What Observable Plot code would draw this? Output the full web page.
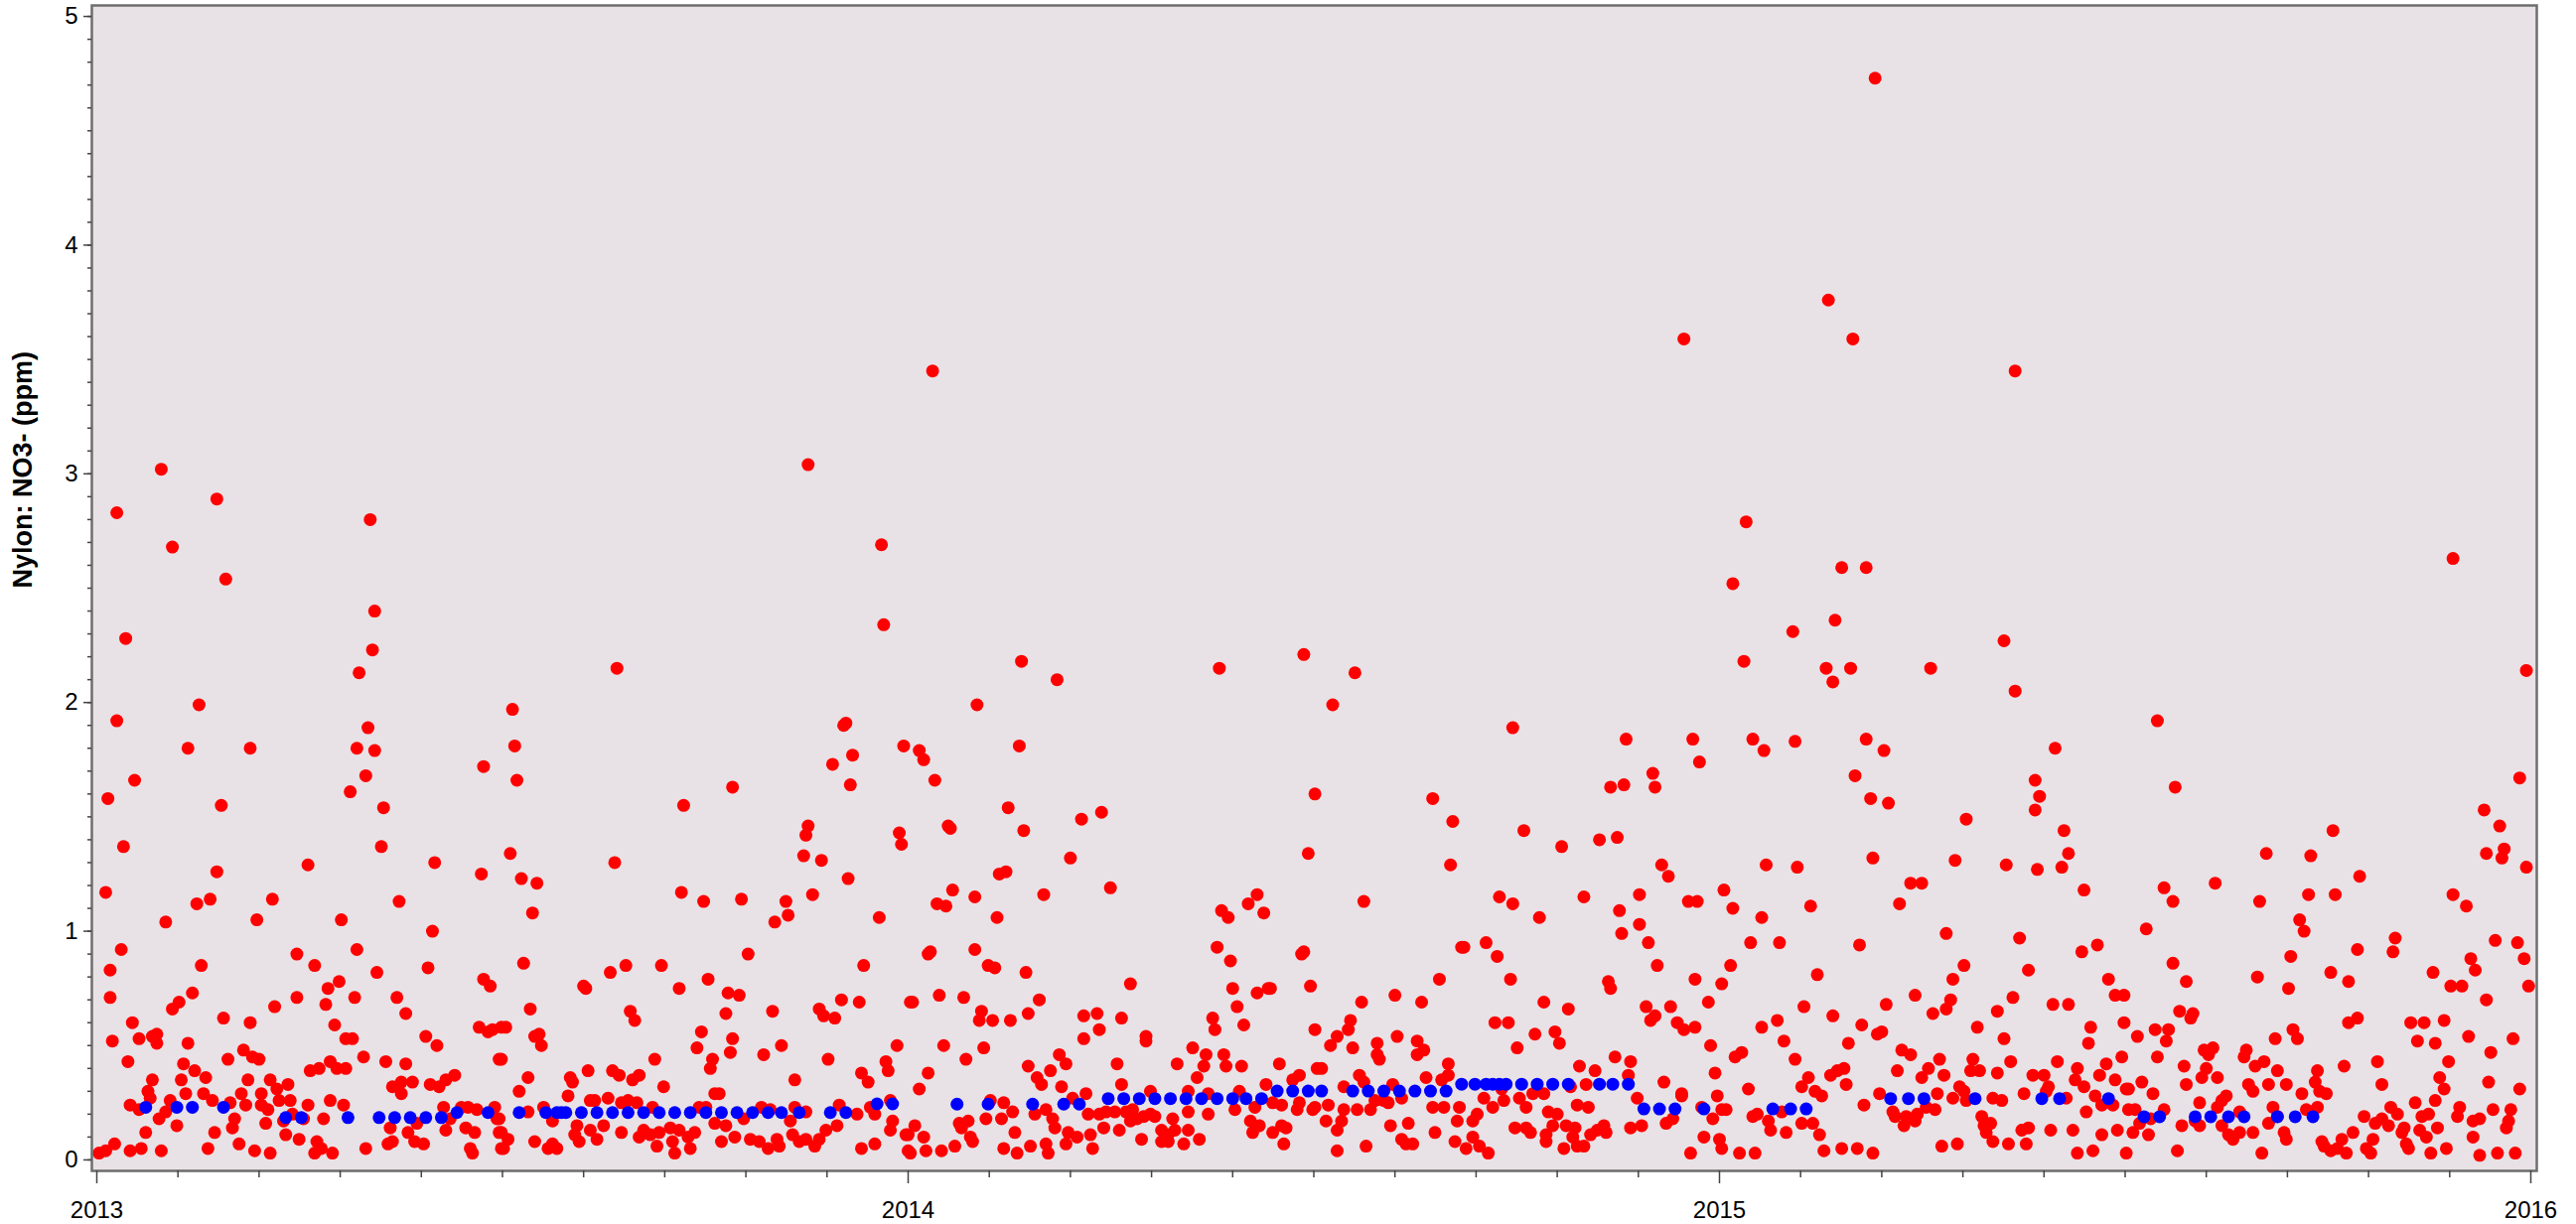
<!DOCTYPE html>
<html><head><meta charset="utf-8">
<script src="https://cdn.jsdelivr.net/npm/d3@7"></script>
<script src="https://cdn.jsdelivr.net/npm/@observablehq/plot@0.6"></script>
<style>body{margin:0;background:#fff}</style>
</head><body><div id="chart"></div>
<script>
const yTitle = "Nylon: NO3- (ppm)";
const yearTicks = [2013, 2014, 2015, 2016];
const yMajorTicks = [0, 1, 2, 3, 4, 5];

// Daily samples: [days since 2013-01-01, ppm]
const red2013 = [
[13,2.28],[124,2.23],[118,2.13],[46,1.99],[9,1.92],[122,1.89],[41,1.80],[69,1.80],[117,1.80],[125,1.79],[174,1.72],[17,1.66],[121,1.68],[5,1.58],[114,1.61],[56,1.55],[129,1.54],[12,1.37],[128,1.37],[95,1.29],[152,1.30],[173,1.25],[54,1.26],[4,1.17],[51,1.14],[45,1.12],[79,1.14],[136,1.13],[31,1.04],[72,1.05],[110,1.05],[151,1.00],[11,0.92],[117,0.92],[90,0.90],[6,0.83],[47,0.85],[98,0.85],[126,0.82],[149,0.84],[109,0.78],[104,0.75],[174,0.79],[177,0.76],[6,0.71],[43,0.73],[37,0.69],[34,0.66],[90,0.71],[116,0.71],[135,0.71],[103,0.68],[80,0.67],[57,0.62],[69,0.60],[139,0.64],[16,0.60],[107,0.59],[7,0.52],[19,0.53],[27,0.51],[27,0.55],[25,0.54],[41,0.51],[112,0.53],[115,0.53],[148,0.54],[153,0.50],[172,0.58],[176,0.56],[178,0.57],[14,0.43],[66,0.48],[59,0.44],[70,0.45],[73,0.44],[39,0.42],[120,0.45],[130,0.43],[139,0.42],[181,0.44],[25,0.35],[23,0.30],[38,0.35],[44,0.39],[49,0.36],[68,0.35],[78,0.35],[86,0.33],[81,0.31],[96,0.39],[100,0.40],[105,0.43],[108,0.40],[112,0.40],[133,0.32],[137,0.34],[142,0.34],[137,0.29],[150,0.33],[154,0.32],[157,0.35],[161,0.37],[15,0.24],[19,0.22],[24,0.27],[33,0.26],[31,0.21],[28,0.18],[40,0.29],[48,0.29],[52,0.26],[60,0.25],[65,0.29],[67,0.24],[74,0.29],[74,0.24],[77,0.22],[82,0.26],[87,0.26],[88,0.20],[95,0.24],[93,0.18],[105,0.26],[111,0.24],[102,0.18],[62,0.18],[76,0.16],[84,0.17],[36,0.15],[22,0.12],[53,0.12],[61,0.14],[85,0.11],[91,0.09],[132,0.14],[144,0.16],[140,0.12],[157,0.13],[156,0.23],[164,0.23],[167,0.23],[171,0.22],[159,0.18],[166,0.14],[170,0.12],[180,0.18],[181,0.12],[179,0.23],[1,0.03],[4,0.04],[8,0.07],[15,0.04],[20,0.05],[29,0.04],[50,0.05],[64,0.07],[71,0.04],[78,0.03],[99,0.08],[98,0.03],[101,0.05],[106,0.03],[121,0.05],[131,0.07],[133,0.08],[143,0.08],[147,0.07],[169,0.03],[168,0.05],[182,0.05],[182,0.58],
[9,2.83],[29,3.02],[34,2.68],[54,2.89],[58,2.54],[123,2.80],[125,2.40],
[234,2.15],[187,1.97],[188,1.81],[189,1.66],[186,1.34],[191,1.23],[198,1.21],[196,1.08],[192,0.86],[233,1.30],[264,1.55],[286,1.63],[263,1.17],[273,1.13],[290,1.14],[293,0.90],[305,1.04],[310,1.13],[311,1.07],[320,1.46],[319,1.42],[318,1.33],[326,1.31],[322,1.16],[331,1.73],[336,1.90],[337,1.91],[340,1.77],[339,1.64],[338,1.23],[345,0.85],[352,1.06],[363,1.81],[361,1.43],[362,1.38],[343,0.69],[335,0.70],[325,0.66],[327,0.63],[332,0.62],[329,0.44],[360,0.50],[355,0.43],[356,0.39],[344,0.38],[347,0.34],[219,0.76],[220,0.75],[231,0.82],[238,0.85],[254,0.85],[262,0.75],[275,0.79],[284,0.73],[289,0.72],[283,0.64],[286,0.53],[285,0.47],[272,0.56],[270,0.49],[277,0.44],[276,0.40],[278,0.29],[280,0.29],[304,0.65],[308,0.50],[300,0.46],[314,0.35],[240,0.65],[242,0.61],[195,0.66],[184,0.58],[182,0.44],[197,0.54],[199,0.55],[200,0.50],[194,0.36],[190,0.30],[212,0.28],[213,0.36],[214,0.34],[221,0.39],[232,0.39],[235,0.37],[241,0.35],[244,0.37],[251,0.44],[255,0.32],[222,0.26],[224,0.26],[230,0.27],[236,0.25],[239,0.26],[243,0.25],[250,0.23],[194,0.21],[201,0.23],[205,0.17],[216,0.15],[222,0.13],[228,0.15],[236,0.12],[244,0.10],[246,0.13],[249,0.11],[253,0.12],[258,0.14],[259,0.08],[262,0.13],[266,0.10],[269,0.12],[271,0.23],[274,0.23],[278,0.16],[283,0.15],[287,0.10],[291,0.18],[299,0.23],[303,0.22],[294,0.09],[298,0.08],[302,0.05],[306,0.09],[307,0.06],[312,0.17],[313,0.11],[314,0.23],[316,0.08],[319,0.09],[323,0.06],[325,0.09],[328,0.13],[333,0.15],[334,0.24],[342,0.20],[350,0.20],[348,0.23],[357,0.26],[358,0.17],[357,0.13],[344,0.05],[350,0.07],[364,0.11],[365,0.04],[183,0.05],[185,0.09],[182,0.12],[181,0.18],[197,0.08],[203,0.05],[205,0.07],[207,0.05],[215,0.11],[217,0.08],[225,0.09],[252,0.06],[260,0.03],[267,0.05],[281,0.08],[319,0.21],
[320,3.04],[353,2.69],[354,2.34]
];
const red2014 = [
[366,0.69],[416,2.18],[432,2.10],[396,1.99],[505,2.15],[543,2.21],[370,1.79],[372,1.75],[377,1.66],[415,1.81],[410,1.54],[384,1.45],[383,1.46],[417,1.44],[443,1.49],[452,1.52],[438,1.32],[406,1.25],[409,1.26],[385,1.18],[378,1.12],[382,1.11],[395,1.15],[426,1.16],[456,1.19],[405,1.06],[548,1.60],[545,1.34],[506,1.09],[509,1.06],[518,1.12],[522,1.16],[525,1.08],[504,0.93],[510,0.87],[543,0.91],[542,0.90],[546,0.76],[375,0.91],[374,0.90],[395,0.92],[401,0.85],[404,0.84],[418,0.82],[465,0.77],[511,0.75],[522,0.73],[527,0.75],[528,0.75],[513,0.67],[367,0.69],[379,0.72],[390,0.71],[424,0.70],[398,0.65],[397,0.61],[403,0.61],[411,0.61],[419,0.64],[444,0.63],[450,0.64],[451,0.57],[444,0.53],[461,0.62],[472,0.54],[472,0.52],[502,0.62],[503,0.57],[516,0.59],[548,0.57],[381,0.50],[391,0.44],[399,0.49],[374,0.38],[370,0.31],[419,0.41],[423,0.36],[425,0.33],[429,0.39],[433,0.46],[436,0.42],[434,0.32],[445,0.29],[459,0.42],[461,0.33],[474,0.30],[486,0.42],[493,0.49],[498,0.41],[499,0.46],[507,0.46],[508,0.41],[515,0.41],[532,0.42],[495,0.36],[491,0.30],[500,0.29],[514,0.30],[526,0.33],[541,0.37],[538,0.35],[549,0.40],[402,0.26],[408,0.25],[412,0.21],[400,0.18],[407,0.18],[422,0.20],[427,0.22],[430,0.18],[431,0.14],[439,0.27],[446,0.20],[451,0.20],[454,0.21],[458,0.21],[463,0.21],[466,0.22],[468,0.18],[465,0.17],[471,0.19],[474,0.20],[476,0.19],[479,0.13],[482,0.11],[484,0.18],[485,0.13],[491,0.13],[491,0.21],[500,0.20],[512,0.22],[521,0.23],[519,0.17],[523,0.15],[520,0.12],[529,0.12],[533,0.15],[535,0.14],[529,0.25],[533,0.24],[540,0.22],[541,0.25],[547,0.22],[534,0.07],[368,0.15],[365,0.11],[372,0.10],[388,0.16],[392,0.17],[389,0.14],[393,0.10],[394,0.08],[366,0.03],[373,0.04],[380,0.04],[386,0.06],[408,0.05],[414,0.03],[420,0.06],[427,0.07],[428,0.03],[413,0.12],[437,0.12],[436,0.07],[441,0.10],[447,0.11],[448,0.05],[453,0.14],[460,0.13],[470,0.09],[479,0.08],[482,0.08],[489,0.07],[496,0.09],
[376,3.45],
[566,2.13],[556,1.99],[637,1.89],[688,1.84],[718,1.84],[721,1.74],[700,1.69],[701,1.63],[681,1.63],[687,1.64],[601,1.58],[610,1.48],[642,1.44],[659,1.37],[676,1.40],[684,1.41],[609,1.29],[704,1.29],[707,1.24],[570,1.13],[631,1.15],[637,1.12],[649,1.06],[669,1.15],[694,1.16],[685,1.09],[694,1.03],[686,0.99],[698,0.95],[716,1.13],[720,1.13],[614,0.93],[615,0.93],[625,0.95],[630,0.89],[702,0.85],[604,0.79],[636,0.79],[680,0.78],[681,0.75],[719,0.79],[569,0.69],[584,0.72],[596,0.69],[651,0.69],[662,0.66],[697,0.67],[708,0.67],[725,0.69],[701,0.63],[699,0.61],[711,0.60],[714,0.57],[719,0.58],[726,0.50],[728,0.38],[564,0.61],[563,0.57],[558,0.54],[555,0.50],[565,0.49],[576,0.51],[576,0.46],[577,0.44],[585,0.54],[594,0.52],[597,0.48],[594,0.46],[629,0.60],[635,0.60],[647,0.55],[656,0.56],[658,0.51],[639,0.49],[551,0.40],[608,0.42],[667,0.41],[674,0.39],[683,0.45],[690,0.43],[689,0.37],[705,0.34],[713,0.29],[729,0.28],[568,0.37],[561,0.32],[570,0.34],[583,0.33],[598,0.36],[605,0.35],[608,0.37],[632,0.31],[663,0.32],[670,0.33],[548,0.23],[554,0.24],[561,0.22],[567,0.22],[573,0.22],[575,0.26],[579,0.26],[581,0.25],[587,0.27],[601,0.23],[606,0.23],[613,0.23],[624,0.27],[628,0.23],[633,0.26],[640,0.27],[643,0.23],[646,0.29],[651,0.29],[653,0.21],[657,0.20],[666,0.24],[671,0.23],[693,0.27],[713,0.28],[722,0.23],[727,0.18],[553,0.17],[558,0.13],[560,0.17],[582,0.15],[590,0.16],[602,0.12],[612,0.17],[619,0.17],[621,0.20],[638,0.14],[643,0.14],[645,0.12],[652,0.11],[655,0.15],[661,0.15],[665,0.14],[672,0.11],[675,0.13],[678,0.15],[679,0.12],[690,0.14],[695,0.15],[706,0.16],[709,0.18],[723,0.10],[558,0.04],[571,0.06],[587,0.09],[589,0.07],[592,0.07],[611,0.08],[616,0.05],[619,0.10],[622,0.06],[626,0.03],[652,0.08],[660,0.05],[664,0.10],[666,0.06],[669,0.06],[717,0.03],
[714,3.59]
];
const red2015 = [
[732,1.18],[731,0.77],[731,0.22],[730,0.09],[731,0.05],
[858,2.27],[741,2.18],[778,2.15],[789,2.15],[781,2.09],[825,2.15],[863,2.05],[763,2.31],[745,1.84],[750,1.79],[764,1.83],[796,1.84],[804,1.79],[881,1.80],[791,1.68],[798,1.58],[806,1.56],[872,1.66],[874,1.59],[872,1.53],[841,1.49],[885,1.44],[887,1.34],[884,1.28],[873,1.27],[859,1.29],[836,1.31],[799,1.32],[751,1.29],[765,1.28],[894,1.18],[736,1.10],[749,1.06],[771,1.11],[816,1.21],[821,1.21],[811,1.12],[832,0.99],[865,0.97],[893,0.91],[900,0.94],[744,0.95],[757,0.95],[793,0.94],[735,0.85],[774,0.81],[840,0.85],[835,0.79],[869,0.83],[905,0.79],[908,0.72],[912,0.72],[768,0.67],[805,0.68],[818,0.72],[834,0.70],[832,0.66],[826,0.64],[862,0.71],[880,0.68],[887,0.68],[855,0.65],[749,0.58],[756,0.61],[759,0.52],[781,0.63],[794,0.59],[801,0.55],[803,0.56],[846,0.58],[858,0.53],[897,0.58],[896,0.51],[912,0.60],[737,0.45],[740,0.47],[764,0.44],[788,0.51],[812,0.48],[816,0.46],[829,0.44],[844,0.44],[861,0.43],[882,0.43],[911,0.45],[770,0.36],[780,0.37],[783,0.39],[786,0.40],[787,0.33],[810,0.39],[824,0.40],[821,0.36],[831,0.37],[843,0.39],[847,0.39],[855,0.38],[871,0.37],[876,0.37],[878,0.32],[890,0.35],[891,0.40],[894,0.32],[901,0.37],[904,0.42],[908,0.35],[913,0.31],[743,0.31],[767,0.32],[773,0.30],[776,0.28],[802,0.29],[828,0.29],[838,0.32],[840,0.30],[835,0.27],[853,0.27],[857,0.26],[867,0.29],[877,0.30],[886,0.27],[899,0.28],[733,0.22],[745,0.19],[747,0.20],[752,0.17],[758,0.21],[753,0.13],[760,0.12],[767,0.16],[772,0.16],[775,0.11],[795,0.24],[808,0.21],[809,0.19],[814,0.19],[813,0.15],[819,0.20],[818,0.17],[823,0.23],[827,0.22],[841,0.26],[848,0.19],[852,0.16],[849,0.15],[850,0.12],[866,0.13],[869,0.14],[879,0.13],[889,0.13],[895,0.21],[902,0.24],[907,0.24],[902,0.11],[909,0.13],[914,0.22],[739,0.03],[746,0.03],[777,0.04],[785,0.05],[792,0.05],[799,0.03],[830,0.06],[837,0.07],[853,0.08],[860,0.07],[868,0.07],[891,0.03],[898,0.04],[913,0.03],
[736,2.52],[742,2.79],[779,3.76],[782,2.36],[785,2.59],[790,3.59],[796,2.59],[800,4.73],[863,3.45],
[1093,2.14],[927,1.92],[935,1.63],[1090,1.67],[1074,1.53],[1081,1.46],[1006,1.44],[1075,1.34],[1083,1.36],[1082,1.32],[1093,1.28],[976,1.34],[996,1.33],[1018,1.24],[930,1.19],[934,1.13],[953,1.21],[973,1.13],[995,1.16],[1007,1.16],[991,1.05],[993,1.00],[1060,1.16],[1066,1.11],[922,1.01],[1034,0.97],[1033,0.91],[1017,0.92],[1079,0.96],[1089,0.95],[1092,0.88],[987,0.89],[934,0.86],[940,0.78],[972,0.80],[986,0.75],[1005,0.82],[1013,0.78],[1051,0.82],[1068,0.88],[1070,0.83],[1059,0.76],[1064,0.76],[1075,0.70],[1094,0.76],[937,0.65],[943,0.64],[942,0.62],[926,0.57],[932,0.57],[931,0.52],[918,0.54],[927,0.45],[948,0.48],[952,0.49],[950,0.46],[967,0.48],[966,0.45],[980,0.53],[988,0.57],[990,0.53],[1013,0.60],[1017,0.62],[1041,0.60],[1047,0.60],[1056,0.61],[1044,0.52],[1052,0.51],[1067,0.54],[1087,0.53],[1077,0.47],[1058,0.43],[1026,0.43],[1011,0.41],[999,0.39],[939,0.41],[949,0.40],[947,0.36],[954,0.36],[971,0.41],[975,0.43],[981,0.39],[940,0.33],[920,0.34],[914,0.31],[925,0.29],[968,0.33],[970,0.30],[977,0.33],[985,0.33],[998,0.34],[992,0.29],[1000,0.30],[1003,0.29],[1028,0.33],[1054,0.36],[1056,0.31],[1076,0.34],[1090,0.31],[958,0.28],[956,0.26],[946,0.25],[954,0.23],[964,0.21],[979,0.23],[994,0.22],[999,0.23],[1043,0.25],[1052,0.26],[1032,0.23],[1063,0.23],[1078,0.22],[1086,0.22],[917,0.22],[930,0.22],[924,0.18],[919,0.16],[916,0.12],[923,0.11],[938,0.15],[944,0.17],[946,0.15],[956,0.15],[959,0.11],[964,0.12],[961,0.09],[970,0.12],[977,0.16],[984,0.12],[985,0.09],[981,0.19],[1020,0.19],[1025,0.16],[1028,0.18],[1031,0.15],[1035,0.20],[1037,0.12],[1038,0.14],[1045,0.13],[1046,0.19],[1049,0.20],[1048,0.10],[1053,0.14],[1062,0.19],[1069,0.17],[1072,0.18],[1069,0.10],[1084,0.14],[1085,0.17],[1015,0.12],[1010,0.09],[1024,0.09],[1001,0.08],[1002,0.06],[1005,0.04],[1008,0.05],[1012,0.03],[1021,0.05],[1023,0.03],[1039,0.07],[1040,0.05],[1050,0.03],[1057,0.05],[1072,0.02],[1080,0.03],[1088,0.03],[936,0.04],[974,0.03],
[1060,2.63]
];

// Weekly composite samples: [days since 2013-01-01, ppm]
const blue2013 = [[22,0.23],[36,0.23],[43,0.23],[57,0.23],[85,0.185],[92,0.185],[113,0.185],[127,0.185],[134,0.185],[141,0.185],[148,0.185],[155,0.185],[162,0.207],[176,0.207],[190,0.207],[202,0.207],[207,0.207],[209,0.207],[211,0.207],[218,0.207],[225,0.207],[232,0.207],[239,0.207],[246,0.207],[253,0.207],[260,0.207],[267,0.207],[274,0.207],[281,0.207],[288,0.207],[295,0.207],[302,0.207],[308,0.207],[316,0.207],[330,0.207],[337,0.207],[351,0.245],[358,0.245]];
const blue2014 = [[387,0.244],[401,0.244],[421,0.244],[435,0.244],[442,0.244],[455,0.268],[462,0.268],[469,0.268],[476,0.268],[483,0.268],[490,0.268],[497,0.268],[504,0.268],[511,0.268],[517,0.268],[524,0.268],[531,0.301],[538,0.301],[545,0.301],[551,0.301],[565,0.301],[572,0.301],[579,0.301],[586,0.301],[593,0.301],[600,0.301],[607,0.301],[614,0.331],[620,0.331],[625,0.331],[628,0.331],[631,0.331],[634,0.331],[641,0.331],[648,0.331],[655,0.331],[662,0.331],[676,0.331],[682,0.331],[689,0.331],[696,0.223],[703,0.223],[710,0.223],[723,0.223]];
const blue2015 = [[754,0.223],[762,0.223],[769,0.223],[807,0.268],[815,0.268],[822,0.268],[845,0.268],[875,0.268],[883,0.268],[905,0.268],[921,0.189],[928,0.189],[944,0.189],[951,0.189],[959,0.189],[966,0.189],[981,0.189],[989,0.189],[997,0.189]];

const DAY = 864e5, T0 = Date.UTC(2013, 0, 1);
const toRow = ([d, v]) => ({date: new Date(T0 + d * DAY), value: v});
const red = [...red2013, ...red2014, ...red2015].map(toRow);
const blue = [...blue2013, ...blue2014, ...blue2015].map(toRow);

const yearDates = yearTicks.map(y => new Date(Date.UTC(y, 0, 1)));
const minorX = [];
for (const y of yearTicks.slice(0, -1)) for (let k = 1; k < 10; k++) minorX.push(new Date(Date.UTC(y, 0, 1) + k * 36.5 * DAY));
const minorY = d3.range(0, 51).map(i => i / 10);

const chart = Plot.plot({
  width: 2594, height: 1233,
  marginLeft: 92, marginRight: 40, marginTop: 5, marginBottom: 54,
  style: {fontFamily: "'Liberation Sans', Arial, sans-serif", fontSize: "24px", background: "#ffffff", color: "#000"},
  x: {type: "utc", domain: [new Date(T0 - 2.23 * DAY), new Date(Date.UTC(2016, 0, 1) + 2.68 * DAY)], label: null},
  y: {domain: [-0.048, 5.048], label: null},
  marks: [
    Plot.frame({fill: "#e8e2e6", stroke: "none"}),
    Plot.dot(red, {x: "date", y: "value", r: 6.5, fill: "#ff0000", stroke: "none"}),
    Plot.dot(blue, {x: "date", y: "value", r: 6.5, fill: "#0000ff", stroke: "none"}),
    Plot.frame({stroke: "#6e6e6e", strokeWidth: 2.5}),
    Plot.axisX(yearDates, {tickSize: 13, tickPadding: 17, tickFormat: d => String(d.getUTCFullYear()), stroke: "#444", strokeWidth: 1.5, label: null}),
    Plot.axisX(minorX, {tickSize: 7, tickFormat: () => "", stroke: "#444", strokeWidth: 1.5, label: null}),
    Plot.axisY(yMajorTicks, {tickSize: 8, tickPadding: 6, tickFormat: d => String(d), stroke: "#444", strokeWidth: 1.5, label: null}),
    Plot.axisY(minorY, {tickSize: 4, tickFormat: () => "", stroke: "#444", strokeWidth: 1.5, label: null}),
    Plot.text([yTitle], {frameAnchor: "left", dx: -69, rotate: -90, fontSize: 27, fontWeight: "bold", fill: "#000"})
  ]
});
document.getElementById("chart").append(chart);
</script>
</body></html>
